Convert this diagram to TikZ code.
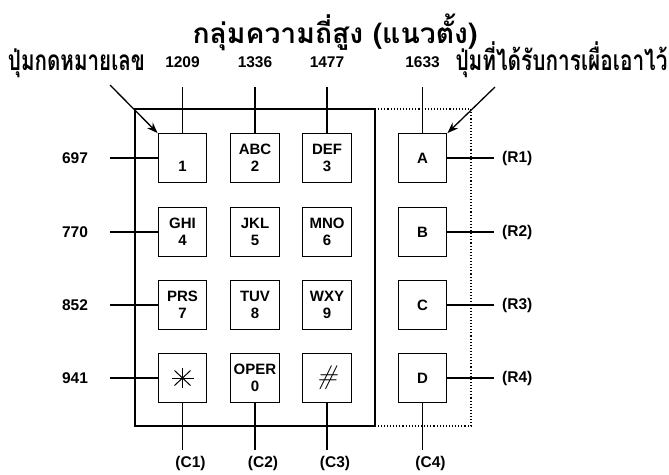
\documentclass[tikz,border=0pt]{standalone}
\usepackage{fontspec}
\usepackage{graphicx}
\setmainfont{Liberation Sans}
\newfontfamily\thaifont[Script=Thai]{Loma}
\newfontfamily\lmit{Latin Modern Roman}
\usetikzlibrary{arrows.meta}
\begin{document}
\begin{tikzpicture}[x=1pt,y=-1pt,
  key/.style={draw,line width=1.3pt,minimum width=48.5pt,minimum height=48.5pt,inner sep=0pt,
     align=center,font=\fontsize{15}{17.5}\selectfont\bfseries},
  lbl/.style={font=\fontsize{15.5}{18}\selectfont\bfseries,inner sep=0pt},
  thai/.style={font=\thaifont\bfseries\fontsize{28}{32}\selectfont,inner sep=0pt,anchor=base},
  wire/.style={line width=1.1pt},
  pointer/.style={line width=1.3pt,-{Stealth[length=11pt,width=8pt]}}]
\useasboundingbox (0,0) rectangle (669,474);
% frames
\draw[line width=1.2pt] (135,109) rectangle (375,426);
\draw[line width=1.1pt,dotted] (375,109) -- (471,109) -- (471,426) -- (375,426);
% keys
\node[key] (k1) at (182.5,158) {\vphantom{A}\\1};
\node[key] (k2) at (255,158) {ABC\\2};
\node[key] (k3) at (327,158) {DEF\\3};
\node[key] (kA) at (422.5,158) {A};
\node[key] (k4) at (182.5,232) {GHI\\4};
\node[key] (k5) at (255,232) {JKL\\5};
\node[key] (k6) at (327,232) {MNO\\6};
\node[key] (kB) at (422.5,232) {B};
\node[key] (k7) at (182.5,305) {PRS\\7};
\node[key] (k8) at (255,305) {TUV\\8};
\node[key] (k9) at (327,305) {WXY\\9};
\node[key] (kC) at (422.5,305) {C};
\node[key] (ks) at (182.5,378) {};
\node[key] (k0) at (255,378) {OPER\\0};
\node[key] (kh) at (327,378) {};
\node[key] (kD) at (422.5,378) {D};
% star and hash
\draw[line width=1pt] (ks.center) ++(0,-10) -- ++(0,20);
\draw[line width=1pt] (ks.center) ++(-11,0) -- ++(22,0);
\draw[line width=1pt] (ks.center) ++(-8,-7.5) -- ++(16,15);
\draw[line width=1pt] (ks.center) ++(-8,7.5) -- ++(16,-15);
\node[inner sep=0pt,font=\lmit\itshape\fontsize{27}{27}\selectfont] (hash) at (kh.center) {\#};
% Thai labels
\node[thai] (title) at (335,43) {\resizebox{285pt}{\height}{กลุ่มความถี่สูง (แนวตั้ง)}};
\node[thai] (lefttxt) at (76.5,70) {\resizebox{137pt}{\height}{ปุ่มกดหมายเลข}};
\node[thai] (righttxt) at (561.5,70) {\resizebox{212pt}{\height}{ปุ่มที่ได้รับการเผื่อเอาไว้}};
% column labels top
\foreach \n/\k/\t in {t1/k1/1209,t2/k2/1336,t3/k3/1477,t4/kA/1633}{
  \node[lbl] (\n) at (\k.center |- 0,62) {\t};
  \coordinate (\n c) at (\k.center |- 0,87);
  \draw[wire] (\n c) -- (\k.north);
}
% column labels bottom
\foreach \n/\k/\t in {b1/ks/(C1),b2/k0/(C2),b3/kh/(C3),b4/kD/(C4)}{
  \coordinate (\n c) at (\k.center |- 0,450);
  \node[lbl] (\n) at ([xshift=8pt]\k.center |- 0,463) {\t};
  \draw[wire] (\k.south) -- (\n c);
}
% row labels left
\foreach \n/\k/\t in {l1/k1/697,l2/k4/770,l3/k7/852,l4/ks/941}{
  \node[lbl] (\n) at (75,0 |- \k.center) {\t};
  \coordinate (\n c) at (110,0 |- \k.center);
  \draw[wire] (\n c) -- (\k.west);
}
% row labels right
\foreach \n/\k/\t in {r1/kA/(R1),r2/kB/(R2),r3/kC/(R3),r4/kD/(R4)}{
  \coordinate (\n c) at (494,0 |- \k.center);
  \node[lbl,anchor=west] (\n) at (502,0 |- \k.center) {\t};
  \draw[wire] (\k.east) -- (\n c);
}
% pointers
\coordinate (pl) at (110,85);
\coordinate (pr) at (495,87);
\draw[pointer] (pl) -- (k1.north west);
\draw[pointer] (pr) -- (kA.north east);
\end{tikzpicture}
\end{document}
